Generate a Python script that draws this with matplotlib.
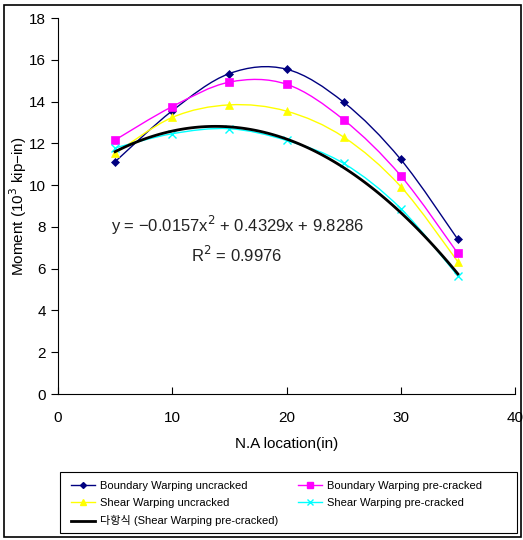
import matplotlib
matplotlib.use("Agg")
import matplotlib.pyplot as plt
from matplotlib.path import Path
from matplotlib.patches import PathPatch, Rectangle
from matplotlib.lines import Line2D
import numpy as np

plt.rcParams['font.family'] = ['Liberation Sans', 'Noto Sans CJK KR', 'DejaVu Sans']

x_loc = [5, 10, 15, 20, 25, 30, 35]
bw_uncracked = [11.12, 13.56, 15.34, 15.55, 13.97, 11.23, 7.40]
bw_precracked = [12.16, 13.76, 14.93, 14.83, 13.13, 10.45, 6.73]
sw_uncracked = [11.52, 13.24, 13.84, 13.54, 12.30, 9.93, 6.33]
sw_precracked = [11.78, 12.46, 12.70, 12.14, 11.04, 8.88, 5.65]
# trendline coefficients shown on the chart
poly_coef = [-0.0157, 0.4329, 9.8286]

labels = ['Boundary Warping uncracked', 'Boundary Warping pre-cracked',
          'Shear Warping uncracked', 'Shear Warping pre-cracked',
          '다항식 (Shear Warping pre-cracked)']


def smooth_path(xs, ys):
    # Catmull-Rom style bezier segments, like the spreadsheet's smoothed lines
    pts = np.column_stack([xs, ys]).astype(float)
    verts = [pts[0]]
    codes = [Path.MOVETO]
    n = len(pts)
    for i in range(n - 1):
        p0 = pts[i - 1] if i > 0 else pts[i]
        p1 = pts[i]
        p2 = pts[i + 1]
        p3 = pts[i + 2] if i + 2 < n else pts[i + 1]
        c1 = p1 + (p2 - p0) / 6.0
        c2 = p2 - (p3 - p1) / 6.0
        verts += [c1, c2, p2]
        codes += [Path.CURVE4] * 3
    return Path(verts, codes)


fig = plt.figure(figsize=(5.23, 5.40), dpi=100)
ax = fig.add_axes([58 / 523, 1 - 394 / 540, (515 - 58) / 523, (394 - 18) / 540])

series = [
    (bw_uncracked, '#000080', 'D', 4),
    (bw_precracked, '#ff00ff', 's', 6),
    (sw_uncracked, '#ffff00', '^', 6),
    (sw_precracked, '#00ffff', 'x', 6),
]
handles = []
for ys, col, mk, ms in series:
    ax.add_patch(PathPatch(smooth_path(x_loc, ys), facecolor='none', edgecolor=col, lw=1.0))
    ax.plot(x_loc, ys, linestyle='none', marker=mk, color=col, markersize=ms,
            markeredgewidth=1.0 if mk == 'x' else 0.5)
    handles.append(Line2D([], [], color=col, marker=mk, markersize=ms - 1, lw=1.0))

# polynomial trendline of the shear warping pre-cracked series
tx = np.linspace(x_loc[0], x_loc[-1], 100)
ax.plot(tx, np.polyval(poly_coef, tx), color='black', lw=2.0)
handles.append(Line2D([], [], color='black', lw=2.0))

ax.text(0.115, 0.43, 'y = \u22120.0157x$^{2}$ + 0.4329x + 9.8286', transform=ax.transAxes,
        fontsize=12, color='#222222')
ax.text(0.29, 0.35, 'R$^{2}$ = 0.9976', transform=ax.transAxes, fontsize=12, color='#222222')

ax.set_xlim(0, 40)
ax.set_ylim(0, 18)
ax.set_xticks([0, 10, 20, 30, 40])
ax.set_yticks(range(0, 19, 2))
ax.spines['top'].set_visible(False)
ax.spines['right'].set_visible(False)
ax.tick_params(axis='x', direction='in', length=5, labelsize=11, pad=12)
ax.tick_params(axis='y', direction='out', length=5, labelsize=11)
ax.set_xlabel('N.A location(in)', fontsize=11, labelpad=9)
ax.set_ylabel('Moment (10$^{3}$ kip\u2212in)', fontsize=11)
ax.yaxis.set_label_coords(-0.064, 0.5)

# matplotlib fills legend columns first; reorder so rows read like the reference
order = [0, 2, 4, 1, 3]
leg = fig.legend([handles[i] for i in order], [labels[i] for i in order],
                 loc='upper left', bbox_to_anchor=(62 / 523, 1 - 472 / 540),
                 ncol=2, fontsize=8, frameon=False,
                 handlelength=2.2, handletextpad=0.4, borderpad=0.3, labelspacing=0.65,
                 columnspacing=1.8)

fig.patches.append(Rectangle((60 / 523, 1 - 533 / 540), (517 - 60) / 523, 61 / 540,
                             transform=fig.transFigure, fill=False, edgecolor='black', lw=0.8))
fig.patches.append(Rectangle((4 / 523, 3 / 540), 517 / 523, 532 / 540, transform=fig.transFigure,
                             fill=False, edgecolor='black', lw=1.2))

fig.savefig('out.png', dpi=100)
